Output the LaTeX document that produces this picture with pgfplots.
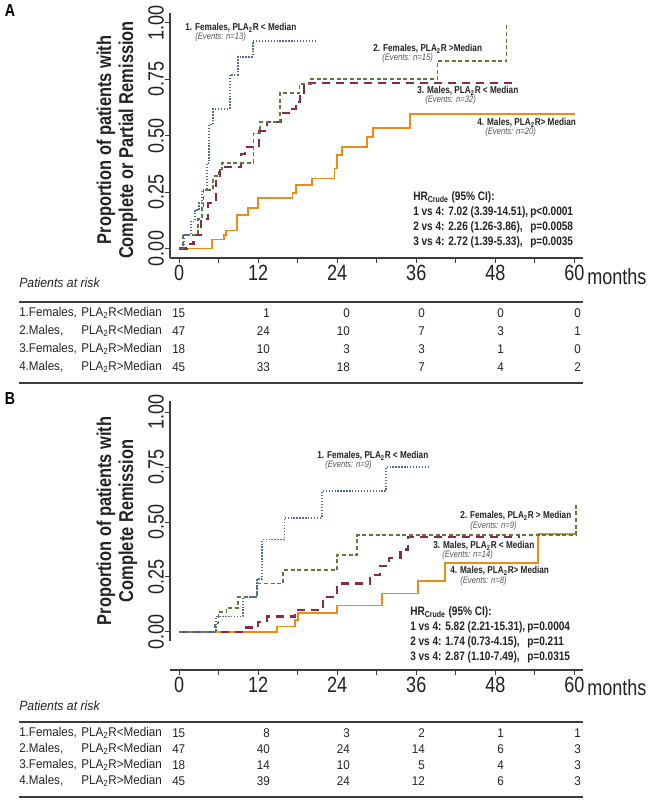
\documentclass[border=0pt]{standalone}
\usepackage{pgfplots}
\pgfplotsset{compat=1.18}
\usepackage{fontspec}
\setmainfont{Liberation Sans}[FakeStretch=0.82]
\newfontfamily\tabfont{Liberation Sans}[FakeStretch=0.92]
\definecolor{cblue}{RGB}{80,110,155}
\definecolor{cgreen}{RGB}{96,122,58}
\definecolor{cmar}{RGB}{138,40,78}
\definecolor{corange}{RGB}{236,140,22}
\definecolor{ctext}{RGB}{35,35,35}
\definecolor{cgray}{RGB}{85,85,85}
\definecolor{caxis}{RGB}{60,60,60}
\pgfplotsset{
 km/.style={scale only axis, width=309.75pt, xmin=-1.37, xmax=61.3,
   axis x line*=bottom, axis y line*=left,
   axis line style={-, line width=0.8pt, caxis},
   xtick={0,12,24,36,48,60}, minor xtick={6,18,30,42,54},
   ytick={0,0.25,0.5,0.75,1}, yticklabels={0.00,0.25,0.50,0.75,1.00},
   tick align=outside, major tick length=3.5pt, minor tick length=3.5pt,
   tick style={caxis, line width=0.7pt},
   /pgf/number format/assume math mode=true,
   tick label style={font=\fontsize{16.5}{16.5}\selectfont, text=ctext},
   yticklabel style={rotate=90, anchor=south, inner sep=1pt},
   xticklabel style={inner sep=2pt},
   clip=false},
 g1/.style={const plot, cblue, line width=1.4pt, dash pattern=on 1pt off 1.2pt},
 g2/.style={const plot, cgreen, line width=1.3pt, dash pattern=on 3pt off 2pt},
 g3/.style={const plot, cmar, line width=1.6pt, dash pattern=on 6pt off 4.5pt},
 g4/.style={const plot, corange, line width=1.3pt},
}
\tikzset{
 lab/.style={anchor=west, inner sep=0pt, text=ctext, font=\fontsize{7.5}{8}\selectfont\bfseries},
 ev/.style={anchor=west, inner sep=0pt, text=cgray, font=\fontsize{7}{8}\selectfont\itshape},
 hr/.style={anchor=west, inner sep=0pt, text=ctext, font=\fontsize{9.2}{10}\selectfont\bfseries},
 tl/.style={anchor=west, inner sep=0pt, text=ctext, font=\tabfont\fontsize{9.5}{10}\selectfont},
 tn/.style={anchor=east, inner sep=0pt, text=ctext, font=\tabfont\fontsize{9.5}{10}\selectfont},
}
\newcommand\riskrow[9]{%
  \node[tl] at (19,#1) {#2};
  \node[tl] at (81,#1) {#3};
  \node[tl] at (172,#1) {#4};
  \node[tn] at (270,#1) {#5};
  \node[tn] at (350,#1) {#6};
  \node[tn] at (425,#1) {#7};
  \node[tn] at (504,#1) {#8};
  \node[tn] at (581,#1) {#9};
}
\newcommand\plr{PLA\textsubscript{2}R}
\begin{document}
\begin{tikzpicture}
\path[use as bounding box] (0,0) rectangle (488.25pt,604.5pt);

% ---------------- Panel A ----------------
\begin{axis}[km, at={(127.5pt,411pt)}, anchor=south west, height=183.75pt,
  ymin=-0.042, ymax=1.044]
\addplot[g4] coordinates {(0,0) (5.0,0.04) (6.8,0.06) (7.1,0.08) (8.8,0.15) (10.5,0.18) (12.0,0.225) (17.2,0.245) (17.7,0.28) (20.2,0.31) (23.6,0.355) (24.0,0.415) (24.7,0.45) (28.5,0.495) (29.4,0.535) (35.0,0.595) (60.1,0.595)};
\addplot[g3] coordinates {(0,0) (1.2,0.02) (2.2,0.06) (3.3,0.13) (4.4,0.2) (5.6,0.3) (6.2,0.36) (9.4,0.42) (10.0,0.45) (12.2,0.52) (13.3,0.56) (15.5,0.6) (16.9,0.62) (17.7,0.65) (18.3,0.69) (18.9,0.733) (50.7,0.733)};
\addplot[g2] coordinates {(0,0) (0.6,0.06) (2.9,0.13) (3.45,0.19) (3.7,0.26) (5.2,0.32) (6.0,0.35) (6.5,0.38) (11.3,0.51) (12.3,0.56) (15.3,0.69) (18.3,0.73) (20.0,0.75) (39.2,0.83) (49.7,1.0)};
\addplot[g1] coordinates {(0,0) (0.8,0.06) (1.8,0.12) (2.4,0.17) (3.0,0.2) (3.5,0.26) (4.3,0.38) (4.6,0.55) (5.2,0.62) (7.7,0.77) (8.9,0.85) (11.2,0.92) (20.8,0.92)};
\end{axis}

% ---------------- Panel B ----------------
\begin{axis}[km, at={(127.5pt,102pt)}, anchor=south west, height=201.75pt,
  ymin=-0.173, ymax=1.05, y axis line style={draw=none}]
\draw[caxis, line width=0.8pt] (axis cs:-1.37,-0.04) -- (axis cs:-1.37,1.05);
\addplot[g4] coordinates {(0,0) (14.9,0.025) (17.6,0.055) (18.1,0.085) (24.0,0.12) (30.8,0.175) (36.3,0.23) (40.4,0.315) (54.5,0.445) (60.4,0.445)};
\addplot[g3] coordinates {(0,0) (9.5,0.02) (12.0,0.045) (13.3,0.07) (17.6,0.10) (21.8,0.16) (24.0,0.22) (29.0,0.26) (30.5,0.30) (31.8,0.335) (33.6,0.375) (34.8,0.43) (51.8,0.43)};
\addplot[g2] coordinates {(0,0) (5.5,0.04) (6.0,0.09) (7.2,0.11) (9.0,0.16) (11.8,0.22) (15.8,0.28) (24.0,0.35) (27.0,0.44) (60.2,0.575)};
\addplot[g1] coordinates {(0,0) (5.6,0.07) (9.7,0.16) (11.8,0.24) (12.6,0.42) (16.0,0.52) (21.7,0.64) (31.4,0.75) (37.8,0.75)};
\end{axis}

\begin{scope}[x=0.75pt, y=-0.75pt, yshift=604.5pt]
% panel letters
\node[font=\fontsize{13}{13}\selectfont\bfseries, inner sep=0pt] at (10,11) {A};
\node[font=\fontsize{13}{13}\selectfont\bfseries, inner sep=0pt] at (10,399) {B};
% y labels
\node[rotate=90, align=center, text=ctext, font=\fontsize{15}{16.5}\selectfont\bfseries] at (117,140) {Proportion of patients with\\Complete or Partial Remission};
\node[rotate=90, align=center, text=ctext, font=\fontsize{15}{16.5}\selectfont\bfseries] at (117,521) {Proportion of patients with\\Complete Remission};
% months
\node[anchor=west, inner sep=0pt, text=ctext, font=\fontsize{16.5}{16.5}\selectfont] at (587,277) {months};
\node[anchor=west, inner sep=0pt, text=ctext, font=\fontsize{16.5}{16.5}\selectfont] at (587,688) {months};

% curve labels A
\node[lab] at (185,28) {1. Females, \plr{} < Median};
\node[ev] at (195,37) {(Events: n=13)};
\node[lab] at (373,49) {2. Females, \plr{} >Median};
\node[ev] at (382,58) {(Events: n=15)};
\node[lab] at (417,91) {3. Males, \plr{} < Median};
\node[ev] at (425,100) {(Events: n=32)};
\node[lab] at (477,123) {4. Males, \plr{}> Median};
\node[ev] at (485,132) {(Events: n=20)};
\node[hr] at (413,197) {HR\textsubscript{Crude} (95\% CI):};
\node[hr] at (413,212) {1 vs 4: 7.02 (3.39-14.51),};
\node[hr] at (530,212) {p<0.0001};
\node[hr] at (413,227) {2 vs 4: 2.26 (1.26-3.86),};
\node[hr] at (530,227) {p=0.0058};
\node[hr] at (413,242) {3 vs 4: 2.72 (1.39-5.33),};
\node[hr] at (530,242) {p=0.0035};

% curve labels B
\node[lab] at (317,456) {1. Females, \plr{} < Median};
\node[ev] at (325,465) {(Events: n=9)};
\node[lab] at (460,516) {2. Females, \plr{} > Median};
\node[ev] at (470,526) {(Events: n=9)};
\node[lab] at (433,546) {3. Males, \plr{} < Median};
\node[ev] at (442,555) {(Events: n=14)};
\node[lab] at (450,571) {4. Males, \plr{}> Median};
\node[ev] at (460,581) {(Events: n=8)};
\node[hr] at (410,612) {HR\textsubscript{Crude} (95\% CI):};
\node[hr] at (410,627) {1 vs 4: 5.82 (2.21-15.31),};
\node[hr] at (527,627) {p=0.0004};
\node[hr] at (410,642) {2 vs 4: 1.74 (0.73-4.15),};
\node[hr] at (527,642) {p=0.211};
\node[hr] at (410,657) {3 vs 4: 2.87 (1.10-7.49),};
\node[hr] at (527,657) {p=0.0315};

% risk table A
\node[tl, font=\tabfont\fontsize{10}{10}\selectfont\itshape] at (19,283) {Patients at risk};
\draw[caxis, line width=0.9pt] (19,302) -- (583,302);
\draw[caxis, line width=0.9pt] (19,383) -- (583,383);
\riskrow{313}{1.Females,}{\plr<Median}{15}{1}{0}{0}{0}{0}
\riskrow{331}{2.Males,}{\plr<Median}{47}{24}{10}{7}{3}{1}
\riskrow{349}{3.Females,}{\plr>Median}{18}{10}{3}{3}{1}{0}
\riskrow{367}{4.Males,}{\plr>Median}{45}{33}{18}{7}{4}{2}
% risk table B
\node[tl, font=\tabfont\fontsize{10}{10}\selectfont\itshape] at (19,706) {Patients at risk};
\draw[caxis, line width=0.9pt] (19,722) -- (583,722);
\draw[caxis, line width=0.9pt] (19,797) -- (583,797);
\riskrow{733}{1.Females,}{\plr<Median}{15}{8}{3}{2}{1}{1}
\riskrow{749}{2.Males,}{\plr<Median}{47}{40}{24}{14}{6}{3}
\riskrow{765}{3.Females,}{\plr>Median}{18}{14}{10}{5}{4}{3}
\riskrow{781}{4.Males,}{\plr>Median}{45}{39}{24}{12}{6}{3}
\end{scope}
\end{tikzpicture}
\end{document}
